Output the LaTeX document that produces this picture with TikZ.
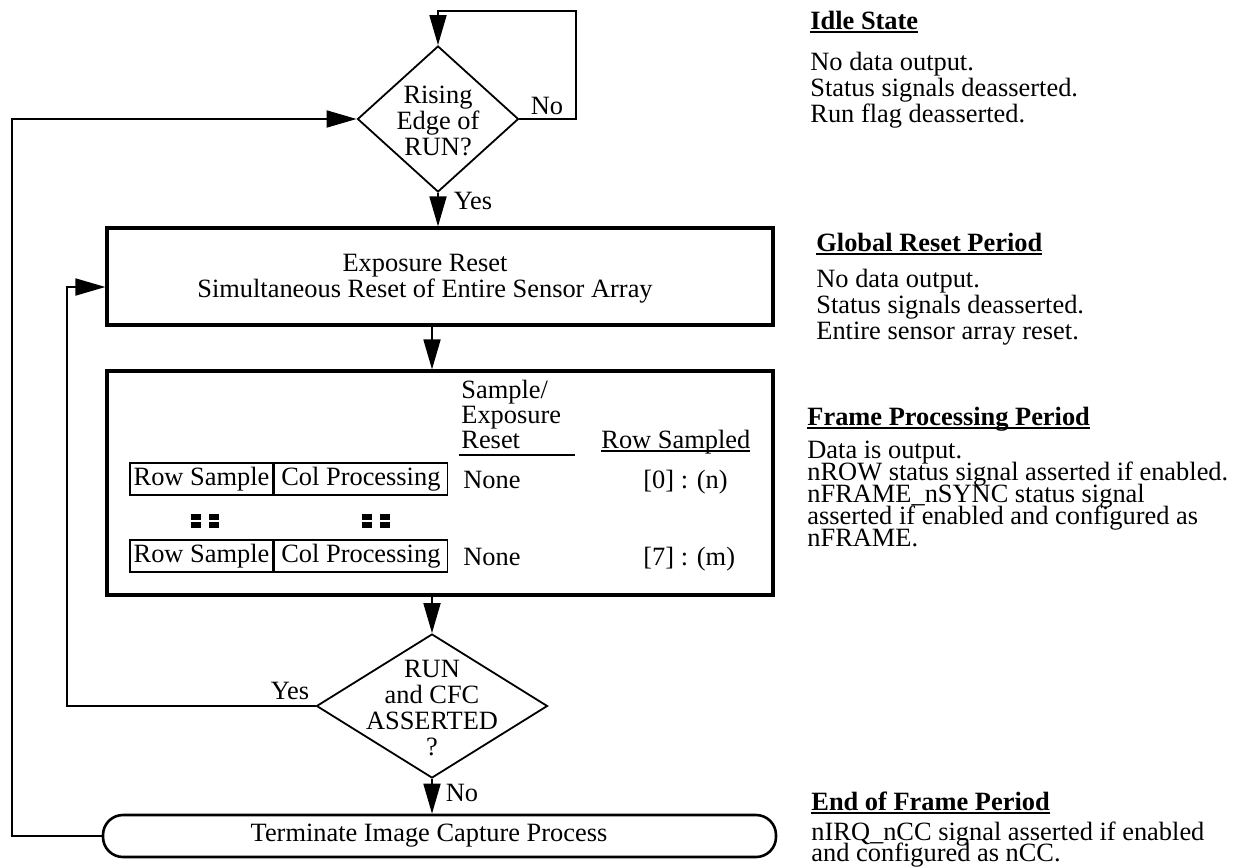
\documentclass[tikz,border=0pt]{standalone}
\usepackage{fontspec}
\setmainfont{Liberation Serif}
\usetikzlibrary{shapes.geometric,arrows.meta}
\newcommand\ulx[1]{\setbox0=\hbox{#1}\rlap{\rule[-2pt]{\wd0}{1pt}}\box0}
\newcommand\fsz{\fontsize{13.2pt}{13pt}\selectfont}
\begin{document}
\begin{tikzpicture}[x=0.5pt,y=-0.5pt, font=\fsz,
  arr/.style={-{Triangle[length=15pt,width=8.5pt]}, line width=0.9pt},
  conn/.style={line width=0.9pt},
  bigbox/.style={draw, line width=1.6pt, minimum width=333pt, inner sep=0},
  dia/.style={draw, diamond, line width=0.9pt, inner sep=0},
  cell/.style={draw, line width=0.7pt, minimum height=16pt, inner sep=0},
  txt/.style={inner sep=0, anchor=base west},
  lbl/.style={inner sep=0},
  dtext/.style={inner sep=0, align=center, font=\fontsize{13.2pt}{13pt}\selectfont}]
\useasboundingbox (0,0) rectangle (1237,867);

% ---- decision 1
\node[dia, minimum width=80.5pt, minimum height=73pt] (d1) at (438,119) {};
\node[dtext] (d1t) at (438,121) {Rising\\Edge of\\RUN?};

% ---- box 1
\node[bigbox, minimum height=48.5pt] (b1) at (440,276.5) {};
\node[dtext] (b1t) at (425,279) {Exposure Reset\\Simultaneous Reset of Entire Sensor Array};

% ---- box 2
\node[bigbox, minimum height=112pt] (b2) at (440,483) {};
\node[cell, minimum width=71.5pt] (r1a) at (201.5,479) {Row Sample};
\node[cell, minimum width=86.5pt, anchor=west] (r1b) at (r1a.east) {Col Processing};
\node[cell, minimum width=71.5pt] (r2a) at (201.5,556) {Row Sample};
\node[cell, minimum width=86.5pt, anchor=west] (r2b) at (r2a.east) {Col Processing};
\foreach \x in {191,209,362,380}{
  \foreach \y in {514,522}{
    \fill (\x,\y) rectangle ++(10,6);
  }
}
\node[txt] (hdr1) at (461,398) {\vtop{\baselineskip=12.5pt\lineskiplimit=-20pt\hbox{Sample/}\hbox{Exposure}\hbox{Reset}}};
\draw[line width=1.3pt] (459,455) -- (575,455);
\node[txt] (hdr2) at (601,448) {\ulx{Row Sampled}};
\node[txt] (n1) at (463,488) {None};
\node[txt] (s1) at (643,488) {[0] : (n)};
\node[txt] (n2) at (463,565) {None};
\node[txt] (s2) at (643,565) {[7] : (m)};

% ---- decision 2
\node[dia, minimum width=115.5pt, minimum height=72pt] (d2) at (432,706) {};
\node[dtext] (d2t) at (432,708) {RUN\\and CFC\\ASSERTED\\?};

% ---- terminator
\node[draw, rounded corners=10pt, line width=1.3pt, minimum width=336.5pt, minimum height=21pt, inner sep=0] (term) at (439.5,836) {};
\node[lbl] (termt) at (429,836) {Terminate Image Capture Process};

% ---- connectors
\coordinate (lp) at (576,11);
\draw[arr] (d1.east) -| (lp) -| (d1.north);
\node[lbl] (no1) at (547,106) {No};
\draw[arr] (d1.south) -- (d1.south |- b1.north);
\node[lbl] (yes1) at (473,201) {Yes};
\draw[arr] (b1.south -| d2.north) -- (b2.north -| d2.north);
\draw[arr] (b2.south -| d2.north) -- (d2.north);
\coordinate (inl) at (67,287);
\draw[arr] (d2.west) -| (inl) -- (inl -| b1.west);
\node[lbl] (yes2) at (290,691) {Yes};
\draw[arr] (d2.south) -- (d2.south |- term.north);
\node[lbl] (no2) at (462,793) {No};
\coordinate (outl) at (12,119);
\draw[arr] (term.west) -| (outl) -- (d1.west);

% ---- right column
\node[txt] (h1) at (810,29) {\bfseries\ulx{Idle State}};
\node[txt] (t1) at (810,70) {\vtop{\baselineskip=13pt\lineskiplimit=-20pt\hbox{No data output.}\hbox{Status signals deasserted.}\hbox{Run flag deasserted.}}};
\node[txt] (h2) at (816,251) {\bfseries\ulx{Global Reset Period}};
\node[txt] (t2) at (816,287) {\vtop{\baselineskip=13pt\lineskiplimit=-20pt\hbox{No data output.}\hbox{Status signals deasserted.}\hbox{Entire sensor array reset.}}};
\node[txt] (h3) at (807,425) {\bfseries\ulx{Frame Processing Period}};
\node[txt] (t3) at (807,458) {\vtop{\baselineskip=11pt\lineskiplimit=-20pt\hbox{Data is output.}\hbox{nROW status signal asserted if enabled.}\hbox{nFRAME\_nSYNC status signal}\hbox{asserted if enabled and configured as}\hbox{nFRAME.}}};
\node[txt] (h4) at (811,810) {\bfseries\ulx{End of Frame Period}};
\node[txt] (t4) at (811,840) {\vtop{\baselineskip=10.5pt\lineskiplimit=-20pt\hbox{nIRQ\_nCC signal asserted if enabled}\hbox{and configured as nCC.}}};
\end{tikzpicture}
\end{document}
